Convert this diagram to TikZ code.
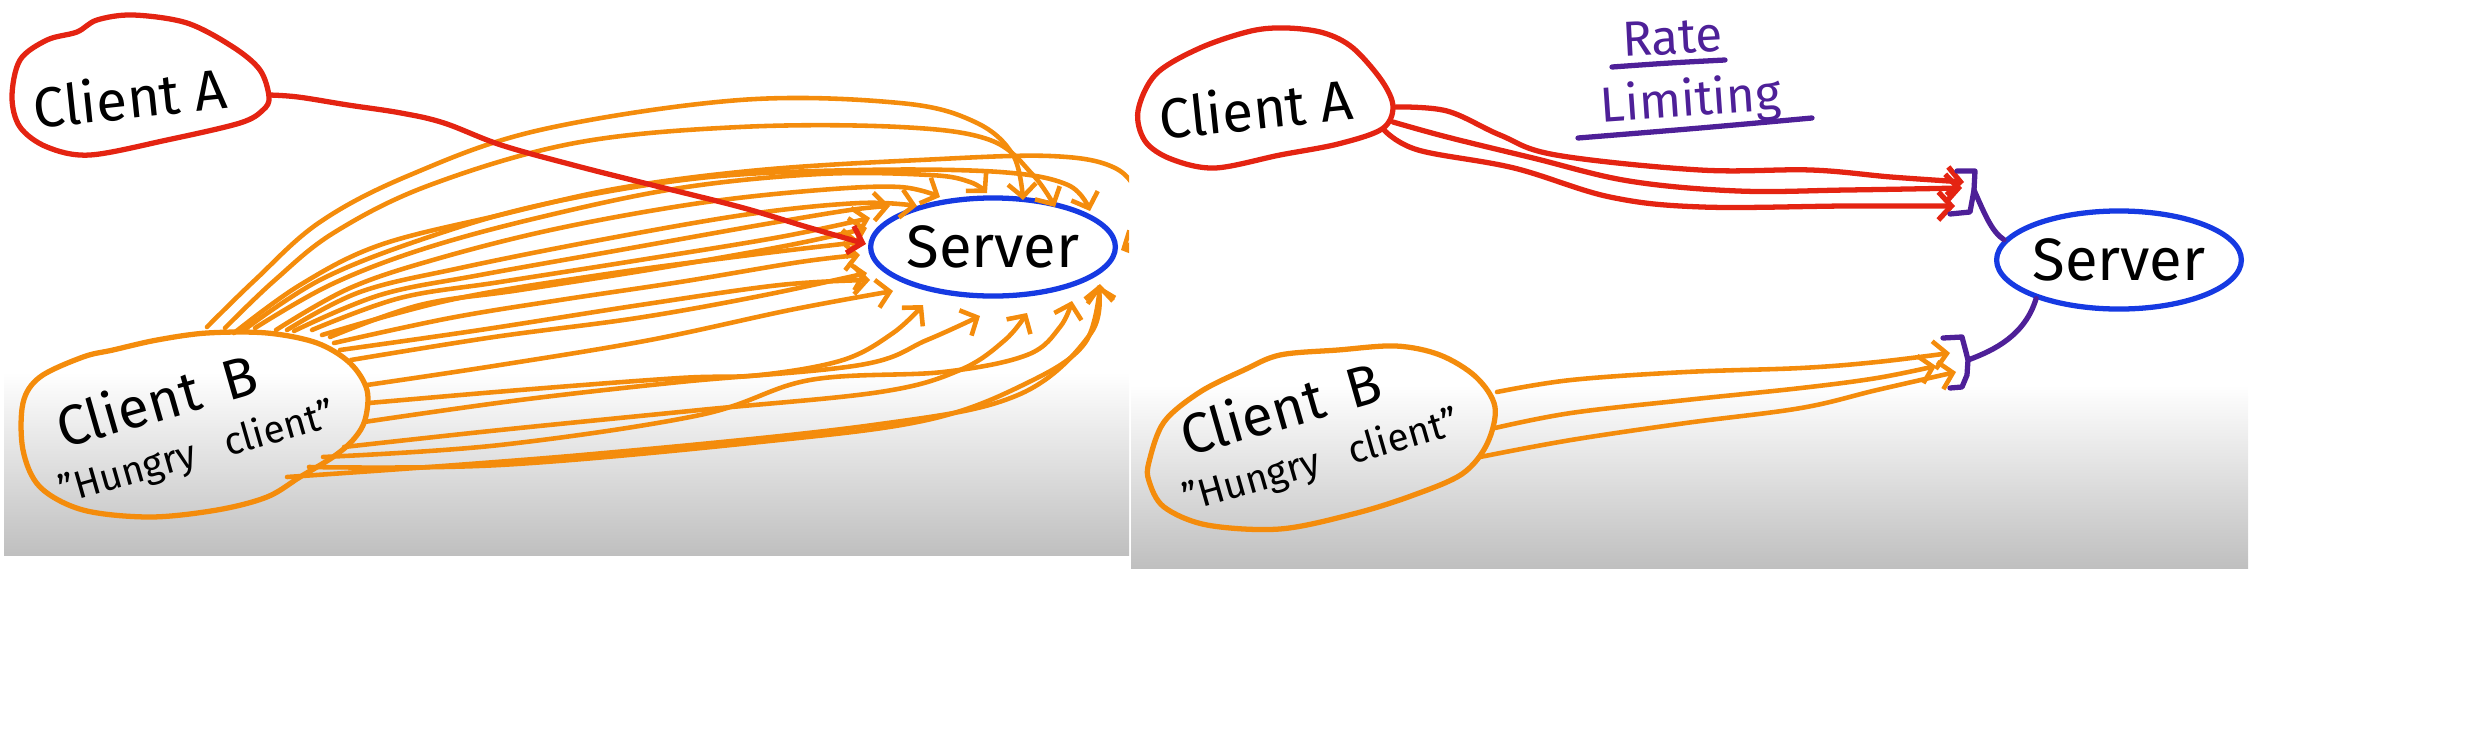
\documentclass[tikz,border=0pt]{standalone}
\usepackage{fontspec}
\setmainfont{Fira Sans}
\usetikzlibrary{shapes.geometric,arrows.meta}
\definecolor{redpen}{RGB}{228,36,18}
\definecolor{orangepen}{RGB}{244,140,12}
\definecolor{bluepen}{RGB}{22,58,226}
\definecolor{purplepen}{RGB}{78,32,152}
\newcommand{\hungrylabel}{\fontsize{16}{18}\selectfont\hspace*{1.5mm}Client\hspace{1mm} B\\[3pt]{\fontsize{11}{13}\selectfont "Hungry\hspace{2mm} client"}}
\begin{document}
\begin{tikzpicture}[x=0.01cm,y=-0.01cm,
  pen/.style={line width=1.5pt,line cap=round,line join=round},
  tipv/.style={-{Straight Barb[length=1.3mm,width=2.8mm]}},
  oarr/.style={pen,draw=orangepen,line width=1.3pt,tipv},
  rarr/.style={pen,draw=redpen,tipv},
  lblA/.style={font=\fontsize{16}{18}\selectfont,inner sep=0pt},
  lblB/.style={align=left,inner sep=0pt,rotate=16},
  lblR/.style={font=\fontsize{14}{16}\selectfont,inner sep=0pt,text=purplepen},
  srv/.style={ellipse,draw=bluepen,pen,minimum width=2.32cm,minimum height=0.98cm,inner sep=0pt,font=\fontsize{17}{19}\selectfont}
]
\useasboundingbox (0,0) rectangle (2472,736);
% backgrounds
\shade[top color=white,bottom color=black!25] (4,372) rectangle (1129,555);
\shade[top color=white,bottom color=black!25] (1131,385) rectangle (2248,568);

% ================= LEFT PANEL =================
\begin{scope}
\clip (4,0) rectangle (1129,555);
% Client A blob
\draw[pen,redpen] plot[smooth cycle,tension=0.55] coordinates {(77,32) (97,20) (133,15) (187,23) (233,47) (260,70) (269,97) (263,110) (240,123) (167,140) (90,155) (47,147) (20,127) (12,97) (20,60) (47,40)};
\node[lblA,rotate=6] (tAL) at (130,97) {Client A};
% Client B blob
\draw[pen,orangepen] plot[smooth cycle,tension=0.55] coordinates {(23,403) (40,377) (83,357) (113,350) (157,340) (207,333) (267,333) (317,343) (350,363) (367,390) (365,420) (353,440) (333,457) (300,477) (267,497) (217,510) (150,517) (83,510) (40,487) (23,450)};
\node[lblB] (tBL) at (188,422) {\hungrylabel};
% Server
\node[srv] (srvL) at (993,247) {Server};
\coordinate (aLout) at (269,95);

% orange request arrows
\draw[oarr] plot[smooth,tension=0.6] coordinates {(207,327) (255,280) (320,222) (410,175) (540,130) (740,100) (900,103) (975,122) (1013,155) (1023,200)};
\draw[oarr] plot[smooth,tension=0.6] coordinates {(225,328) (275,280) (335,232) (430,185) (575,143) (740,127) (900,127) (990,140) (1033,175) (1055,207)};
\draw[oarr] plot[smooth,tension=0.6] coordinates {(234,333) (300,285) (380,245) (500,215) (620,188) (760,170) (920,160) (1050,156) (1115,168) (1140,200) (1138,235) (1121,250)};
\draw[oarr] plot[smooth,tension=0.6] coordinates {(244,330) (320,280) (420,240) (540,205) (700,178) (860,170) (1000,172) (1068,185) (1090,211)};
\draw[oarr] plot[smooth,tension=0.6] coordinates {(255,328) (330,285) (420,250) (537,218) (680,188) (820,174) (930,175) (970,182) (987,193)};
\draw[oarr] plot[smooth,tension=0.6] coordinates {(276,330) (350,288) (440,258) (560,228) (700,203) (820,190) (900,187) (940,197)};
\draw[oarr] plot[smooth,tension=0.6] coordinates {(287,330) (360,292) (460,268) (600,240) (750,214) (860,203) (917,206)};
\draw[oarr] plot[smooth,tension=0.6] coordinates {(294,331) (380,295) (480,275) (620,250) (760,225) (850,210) (890,206)};
\draw[oarr] plot[smooth,tension=0.6] coordinates {(312,330) (400,298) (500,282) (640,260) (780,237) (870,218)};
\draw[oarr] plot[smooth,tension=0.6] coordinates {(330,337) (420,305) (520,290) (660,268) (790,245) (867,228)};
\draw[oarr] plot[smooth,tension=0.6] coordinates {(322,335) (450,300) (600,275) (750,255) (860,242)};
\draw[oarr] plot[smooth,tension=0.6] coordinates {(334,343) (450,318) (560,300) (680,282) (800,262) (860,255)};
\draw[oarr] plot[smooth,tension=0.6] coordinates {(351,360) (494,337) (637,318) (760,296) (867,273)};
\draw[oarr] plot[smooth,tension=0.6] coordinates {(340,350) (480,330) (640,305) (780,285) (870,280)};
\draw[oarr] plot[smooth,tension=0.6] coordinates {(367,385) (500,365) (650,340) (790,310) (893,291)};
\draw[oarr] plot[smooth,tension=0.6] coordinates {(369,403) (520,390) (680,378) (760,375) (843,360) (893,333) (923,305)};
\draw[oarr] plot[smooth,tension=0.6] coordinates {(364,422) (520,400) (680,382) (860,365) (927,340) (980,316)};
\draw[oarr] plot[smooth,tension=0.6] coordinates {(344,447) (500,430) (700,410) (880,392) (960,370) (1005,340) (1027,313)};
\draw[oarr] plot[smooth,tension=0.6] coordinates {(323,457) (500,445) (700,415) (810,380) (943,372) (1027,355) (1060,327) (1072,301)};
\draw[oarr] plot[smooth,tension=0.6] coordinates {(309,467) (500,465) (760,442) (927,420) (1027,383) (1085,343) (1100,284)};
\draw[oarr] plot[smooth,tension=0.6] coordinates {(287,477) (582,455) (873,425) (1018,395) (1091,333) (1098,285)};

% red request arrow
\draw[rarr] plot[smooth,tension=0.6] coordinates {(aLout) (298,97) (348,105) (401,113) (444,123) (501,145) (573,165) (644,183) (740,207) (807,227) (866,244)};
\end{scope}

% ================= RIGHT PANEL =================
% Client A blob
\draw[pen,redpen] plot[smooth cycle,tension=0.55] coordinates {(1138,111) (1156,74) (1200,48) (1251,31) (1287,28) (1324,33) (1353,48) (1382,81) (1393,107) (1382,129) (1338,144) (1280,155) (1215,168) (1171,159) (1145,141)};
\node[lblA,rotate=6] (tAR) at (1256,108) {Client A};
% Client B blob
\draw[pen,orangepen] plot[smooth cycle,tension=0.55] coordinates {(1149,462) (1164,422) (1200,392) (1244,370) (1280,355) (1338,350) (1396,346) (1440,355) (1476,377) (1495,407) (1487,444) (1462,474) (1411,496) (1353,514) (1280,529) (1207,525) (1164,507) (1149,481)};
\node[lblB] (tBR) at (1312,430) {\hungrylabel};
% Server
\node[srv] (srvR) at (2119,260) {Server};
% Rate limiting label
\node[lblR,rotate=3,anchor=base] (rate) at (1673,54) {Rate};
\node[lblR,rotate=4,anchor=base] (limit) at (1692,116) {Limiting};
\draw[pen,purplepen] plot[smooth,tension=0.6] coordinates {(1612,67) (1670,63) (1725,60)};
\draw[pen,purplepen] plot[smooth,tension=0.6] coordinates {(1578,138) (1700,128) (1812,118)};

% endpoints
\coordinate (ra1) at (1396,107);
\coordinate (ra2) at (1393,122);
\coordinate (ra3) at (1384,130);
\coordinate (re1) at (1964,182);
\coordinate (re2) at (1962,188);
\coordinate (re3) at (1955,206);
\coordinate (ob1) at (1497,392);
\coordinate (ob2) at (1495,428);
\coordinate (ob3) at (1480,457);
\coordinate (oe1) at (1950,353);
\coordinate (oe2) at (1936,366);
\coordinate (oe3) at (1956,372);
\coordinate (brA) at (1974,190);
\coordinate (brB) at (1968,360);

% red arrows
\draw[rarr] plot[smooth,tension=0.6] coordinates {(ra1) (1447,111) (1500,135) (1556,155) (1700,170) (1811,170) (1891,177) (re1)};
\draw[rarr] plot[smooth,tension=0.6] coordinates {(ra2) (1447,137) (1533,158) (1629,181) (1738,191) (1847,190) (re2)};
\draw[rarr] plot[smooth,tension=0.6] coordinates {(ra3) (1418,150) (1514,168) (1610,197) (1702,207) (1847,206) (re3)};
% orange arrows
\draw[oarr] plot[smooth,tension=0.6] coordinates {(ob1) (1571,380) (1686,372) (1801,368) (1877,362) (oe1)};
\draw[oarr] plot[smooth,tension=0.6] coordinates {(ob2) (1571,413) (1686,400) (1801,388) (1877,378) (oe2)};
\draw[oarr] plot[smooth,tension=0.6] coordinates {(ob3) (1571,440) (1686,423) (1801,408) (1877,390) (oe3)};

% brackets and links to server
\draw[pen,purplepen] (1957,171) -- (1975,171) -- (brA) -- (1970,212) -- (1950,214);
\draw[pen,purplepen] (brA) .. controls (1985,215) and (1992,232) .. (srvR.170);
\draw[pen,purplepen] (1943,338) -- (1962,337) -- (1966,352) -- (brB) -- (1967,375) -- (1962,387) -- (1950,388);
\draw[pen,purplepen] (brB) .. controls (1995,350) and (2025,335) .. (srvR.205);
\end{tikzpicture}
\end{document}
